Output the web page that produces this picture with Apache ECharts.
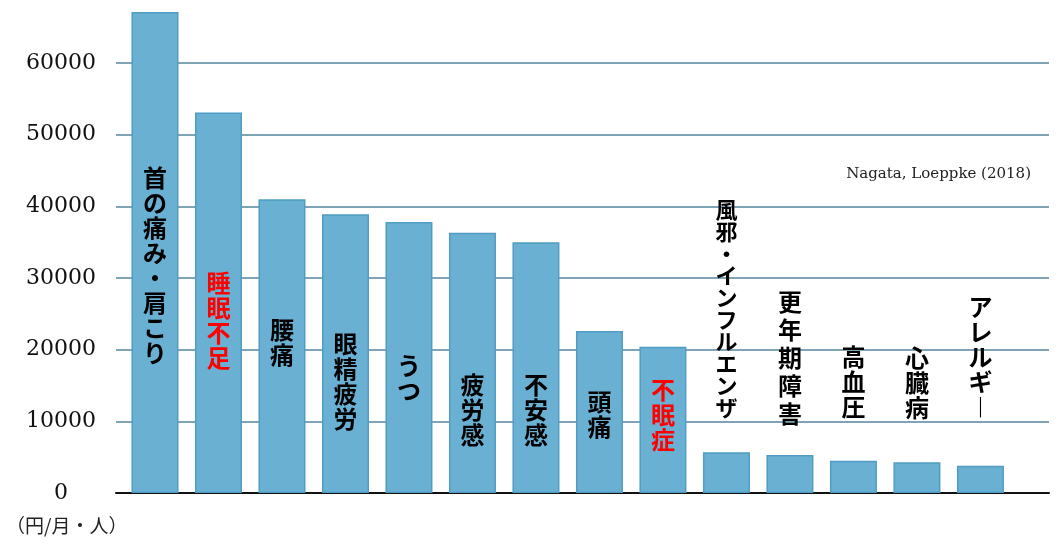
<!DOCTYPE html>
<html>
<head>
<meta charset="utf-8">
<script src="https://cdn.jsdelivr.net/npm/echarts@6/dist/echarts.min.js"></script>
<style>
  html, body { margin: 0; padding: 0; background: #fff; }
  #main { width: 1061px; height: 558px; }
</style>
</head>
<body>
<div id="main"></div>
<script>
// 疾患ごとの損失額（円/月・人）
var categories = ['首の痛み・肩こり', '睡眠不足', '腰痛', '眼精疲労', 'うつ', '疲労感', '不安感',
  '頭痛', '不眠症', '風邪・インフルエンザ', '更年期障害', '高血圧', '心臓病', 'アレルギー'];
var values = [67100, 53100, 41000, 38900, 37800, 36300, 35000, 22600, 20400, 5700, 5300, 4500, 4300, 3800];
var redLabels = ['睡眠不足', '不眠症'];
var yTicks = [0, 10000, 20000, 30000, 40000, 50000, 60000];

// ラベル位置（棒の中 / 棒の上）
var insideOffset = [13, 18, -4, 28, 21, 47, 42, 2, -5];
var topDistance = [34, 27, 41, 42, 46];

function vertical(s) {
  return s.split('').map(function (c) { return c === 'ー' ? '︱' : c; }).join('\n');
}

var chart = echarts.init(document.getElementById('main'));

var data = values.map(function (v, i) {
  var name = categories[i];
  var label = {
    show: true,
    formatter: vertical(name),
    color: redLabels.indexOf(name) >= 0 ? '#ff0000' : '#000',
    fontFamily: 'Noto Sans CJK JP',
    fontWeight: 'bold',
    fontSize: 24,
    lineHeight: 25,
    align: 'center'
  };
  if (i < insideOffset.length) {
    label.position = 'inside';
    label.offset = [0, insideOffset[i]];
  } else {
    label.position = 'top';
    label.distance = topDistance[i - insideOffset.length];
  }
  if (name === '風邪・インフルエンザ') { label.fontSize = 22; label.lineHeight = 22; }
  if (name === '更年期障害') label.lineHeight = 28;
  return { value: [i, v], label: label };
});

chart.setOption({
  animation: false,
  title: [{
    text: '（円/月・人）',
    left: 1,
    top: 511,
    textStyle: { fontFamily: 'Noto Sans CJK JP', fontSize: 19, fontWeight: 'normal', color: '#222' }
  }, {
    text: 'Nagata, Loeppke (2018)',
    right: 25,
    top: 162,
    textStyle: { fontFamily: 'DejaVu Serif', fontSize: 15, fontWeight: 'normal', color: '#222' }
  }],
  grid: { left: 116, right: 12, top: 9.2, bottom: 65 },
  xAxis: {
    type: 'value',
    min: -0.614,
    max: 14.08,
    axisLine: { show: true, lineStyle: { color: '#111', width: 2 } },
    axisTick: { show: false },
    axisLabel: { show: false },
    splitLine: { show: false }
  },
  yAxis: {
    type: 'value',
    min: 0,
    max: 67500,
    interval: 10000,
    axisLine: { show: false },
    axisTick: { show: false },
    axisLabel: {
      align: 'center',
      margin: 55,
      showMaxLabel: false,
      fontFamily: 'DejaVu Serif',
      fontSize: 22,
      color: '#111',
      formatter: function (v) { return yTicks.indexOf(v) >= 0 ? String(v) : ''; }
    },
    splitLine: { show: true, showMaxLine: false, lineStyle: { color: '#7fa5b5', width: 2 } }
  },
  series: [{
    type: 'bar',
    barWidth: 47,
    data: data,
    itemStyle: { color: '#6ab0d3', borderColor: '#4f9dc4', borderWidth: 1.5 }
  }]
});
</script>
</body>
</html>
